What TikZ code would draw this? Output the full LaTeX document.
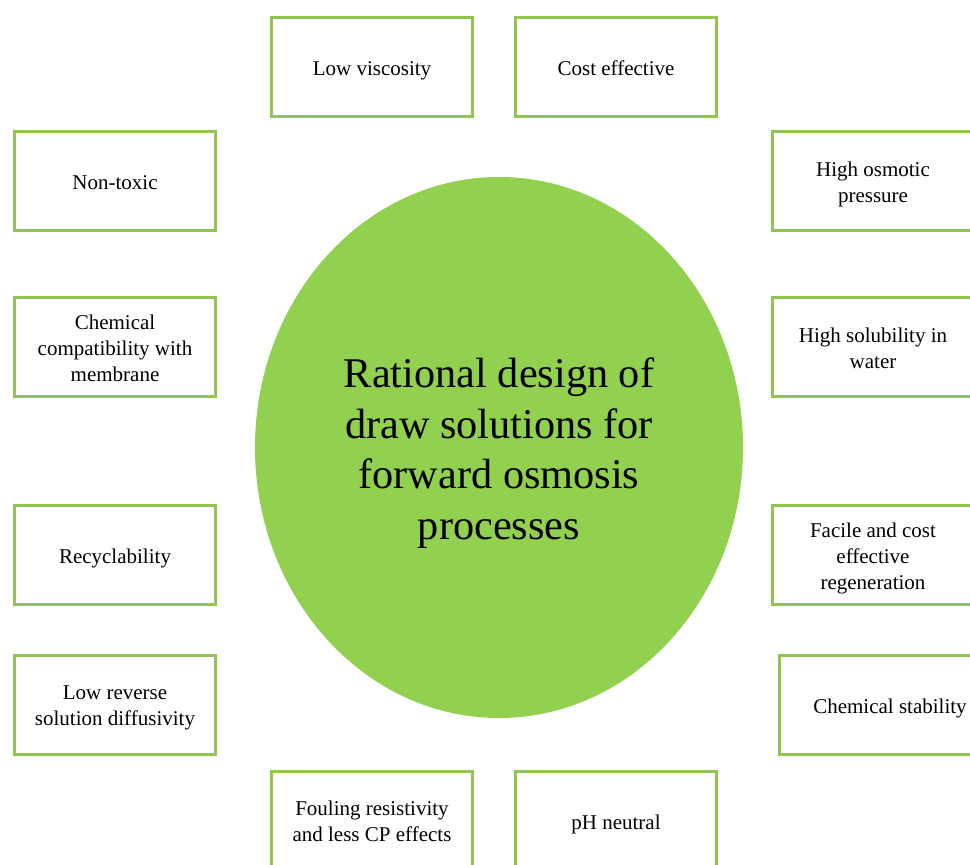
\documentclass[tikz,border=0pt]{standalone}
\usepackage{fontspec}
\setmainfont{Liberation Serif}
\usetikzlibrary{shapes.geometric}
\definecolor{lgreen}{RGB}{146,208,80}
\definecolor{bgreen}{RGB}{146,196,80}
\newcommand\lowtext[2]{\raisebox{-#1}[\height][\depth]{\begin{tabular}{@{}c@{}}#2\end{tabular}}}
\begin{document}
\begin{tikzpicture}[x=1pt,y=-1pt,
  box/.style={draw=bgreen,line width=3pt,fill=white,minimum width=201pt,minimum height=99pt,
    align=center,inner sep=0pt,font=\fontsize{21}{26}\selectfont},
  hub/.style={ellipse,fill=lgreen,draw=none,minimum width=488pt,minimum height=541pt,
    align=center,inner sep=0pt,font=\fontsize{42.3}{50.7}\selectfont}]
\useasboundingbox (0,0) rectangle (970,865);
\begin{scope}
\clip (0,0) rectangle (970,865);
\node[hub] (c) at (499,447.5) {\lowtext{6pt}{Rational design of\\draw solutions for\\forward osmosis\\processes}};
\node[box] (lv) at (372,67) {\lowtext{3pt}{Low viscosity}};
\node[box] (ce) at (616,67) {\lowtext{3pt}{Cost effective}};
\node[box] (nt) at (115,181) {\lowtext{3pt}{Non-toxic}};
\node[box] (cc) at (115,347) {\lowtext{3pt}{Chemical\\compatibility with\\membrane}};
\node[box] (rc) at (115,555) {\lowtext{3pt}{Recyclability}};
\node[box] (lr) at (115,705) {\lowtext{2.5pt}{Low reverse\\solution diffusivity}};
\node[box] (ho) at (873,181) {\lowtext{3pt}{High osmotic\\pressure}};
\node[box] (hs) at (873,347) {\lowtext{3pt}{High solubility in\\water}};
\node[box] (fc) at (873,555) {\lowtext{3.5pt}{Facile and cost\\effective\\regeneration}};
\node[box] (cs) at (880,705) {\lowtext{3pt}{\hspace*{20pt}Chemical stability}};
\node[box] (fr) at (372,821) {\lowtext{2pt}{Fouling resistivity\\and less CP effects}};
\node[box] (ph) at (616,821) {\lowtext{3pt}{pH neutral}};
\end{scope}
\end{tikzpicture}
\end{document}
